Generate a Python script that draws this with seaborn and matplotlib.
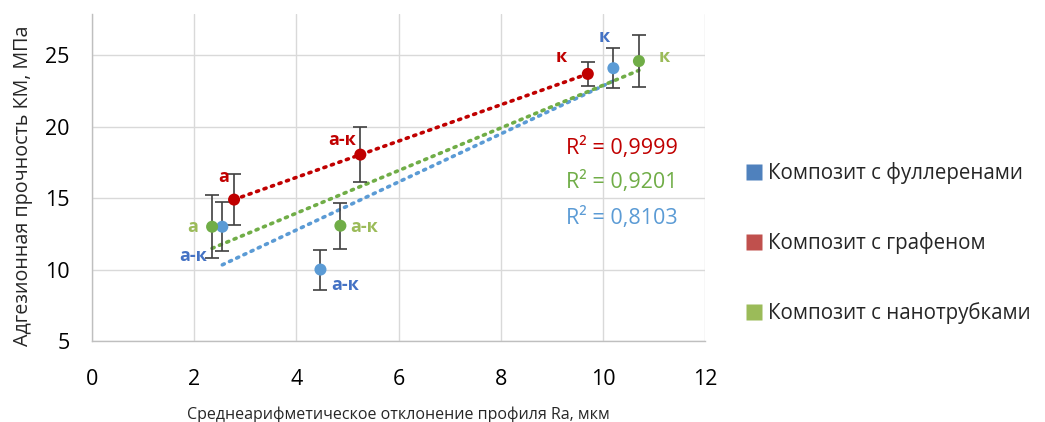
import matplotlib
matplotlib.use("Agg")
import matplotlib.pyplot as plt
import seaborn as sns
import pandas as pd
from matplotlib.lines import Line2D

# ---- data ----
series = ["Композит с фуллеренами", "Композит с графеном", "Композит с нанотрубками"]
x_full = [2.55, 4.47, 10.2]
y_full = [13.0, 10.0, 24.1]
e_full = [1.7, 1.4, 1.4]
x_graph = [2.78, 5.25, 9.7]
y_graph = [14.9, 18.05, 23.7]
e_graph = [1.8, 1.9, 0.85]
x_tube = [2.35, 4.86, 10.7]
y_tube = [13.0, 13.07, 24.6]
e_tube = [2.2, 1.6, 1.8]
labels_full = ["а-к", "а-к", "к"]
labels_graph = ["а", "а-к", "к"]
labels_tube = ["а", "а-к", "к"]
r2_texts = ["R² = 0,8103", "R² = 0,9999", "R² = 0,9201"]
x_ticks = [0, 2, 4, 6, 8, 10, 12]
y_ticks = [5, 10, 15, 20, 25]

marker_colors = ["#5B9BD5", "#C00000", "#70AD47"]
label_colors = ["#4472C4", "#C00000", "#9BBB59"]
legend_colors = ["#4F81BD", "#C0504D", "#9BBB59"]

sns.set_theme(style="white")
plt.rcParams['font.family'] = ['Open Sans', 'DejaVu Sans']

fig = plt.figure(figsize=(10.45, 4.22), dpi=100)
ax = fig.add_axes([0.088, 0.192, 0.587, 0.775])

xs = [x_full, x_graph, x_tube]
ys = [y_full, y_graph, y_tube]
es = [e_full, e_graph, e_tube]
labs = [labels_full, labels_graph, labels_tube]

rows = []
for s, xv, yv in zip(series, xs, ys):
    for xi, yi in zip(xv, yv):
        rows.append({"series": s, "x": xi, "y": yi})
df = pd.DataFrame(rows)

# trendlines
for s, c in zip(series, marker_colors):
    sub = df[df.series == s]
    sns.regplot(data=sub, x="x", y="y", ax=ax, scatter=False, ci=None, truncate=True,
                line_kws=dict(color=c, linestyle=(0, (0.6, 1.6)), linewidth=2.6,
                              dash_capstyle="round", zorder=2))

# error bars
for xv, yv, ev in zip(xs, ys, es):
    ax.errorbar(xv, yv, yerr=ev, fmt="none", ecolor="#404040", elinewidth=1.2,
                capsize=5, capthick=1.2, zorder=3)

sns.scatterplot(data=df, x="x", y="y", hue="series", palette=marker_colors, ax=ax,
                s=75, edgecolor="none", legend=False, zorder=4)

# point labels (positions in data coords)
lab_pos = [
    [(1.98, 10.96), (4.95, 8.9), (10.02, 26.3)],
    [(2.57, 16.5), (4.9, 19.1), (9.18, 24.9)],
    [(1.98, 13.0), (5.33, 13.0), (11.2, 24.9)],
]
for pos, col, lb in zip(lab_pos, label_colors, labs):
    for (px, py), t in zip(pos, lb):
        ax.text(px, py, t, color=col, fontsize=13, fontweight="bold",
                ha="center", va="center", zorder=5)

# R² annotations
r2_pos = [(10.37, 13.6), (10.37, 18.5), (10.37, 16.1)]
for (px, py), t, c in zip(r2_pos, r2_texts, marker_colors):
    ax.text(px, py, t, color=c, fontsize=15.5, ha="center", va="center", zorder=5)

ax.set_xlim(0, 12)
ax.set_ylim(5, 27.9)
ax.set_xticks(x_ticks)
ax.set_yticks(y_ticks)
ax.tick_params(axis="both", labelsize=15.5, colors="#404040", length=0)
ax.tick_params(axis="x", pad=20)
ax.tick_params(axis="y", pad=16)
for lbl in ax.get_xticklabels() + ax.get_yticklabels():
    lbl.set_color("#000000")
ax.grid(True, color="#D9D9D9", linewidth=1)
ax.set_axisbelow(True)
for sp in ["top", "right"]:
    ax.spines[sp].set_visible(False)
for sp in ["left", "bottom"]:
    ax.spines[sp].set_color("#BFBFBF")
    ax.spines[sp].set_linewidth(1)
ax.set_xlabel("Среднеарифметическое отклонение профиля Ra, мкм", fontsize=11.5, labelpad=12)
ax.set_ylabel("Адгезионная прочность КМ, МПа", fontsize=14.2)
ax.yaxis.set_label_coords(-0.096, 0.475)

handles = [Line2D([0], [0], marker="s", color="none", markerfacecolor=c, markeredgecolor="none",
                  markersize=11) for c in legend_colors]
fig.legend(handles, series, loc="upper left", bbox_to_anchor=(0.704, 0.636), frameon=False,
           fontsize=14.8, labelspacing=2.34, handletextpad=0.15, handlelength=1.0, borderaxespad=0)

fig.savefig("out.png", dpi=100)
